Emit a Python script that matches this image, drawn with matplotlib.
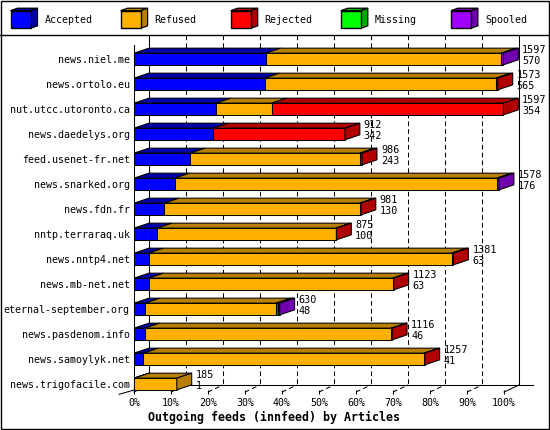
import matplotlib
matplotlib.use("Agg")
import matplotlib.pyplot as plt
from matplotlib.patches import Polygon, Rectangle
import numpy as np

plt.rcParams['font.family'] = ['DejaVu Sans Mono']

# ---------------- data ----------------
feeds = ["news.niel.me", "news.ortolo.eu", "nut.utcc.utoronto.ca", "news.daedelys.org",
         "feed.usenet-fr.net", "news.snarked.org", "news.fdn.fr", "nntp.terraraq.uk",
         "news.nntp4.net", "news.mb-net.net", "eternal-september.org", "news.pasdenom.info",
         "news.samoylyk.net", "news.trigofacile.com"]
accepted = [570, 565, 354, 342, 243, 176, 130, 100, 63, 63, 48, 46, 41, 1]
refused = [1017, 1000, 241, 0, 733, 1392, 846, 772, 1310, 1055, 566, 1066, 1213, 184]
rejected = [0, 8, 1002, 570, 10, 0, 5, 3, 8, 5, 10, 4, 3, 0]
missing = [0, 0, 0, 0, 0, 0, 0, 0, 0, 0, 0, 0, 0, 0]
spooled = [10, 0, 0, 0, 0, 10, 0, 0, 0, 0, 6, 0, 0, 0]
offered = [1597, 1573, 1597, 912, 986, 1578, 981, 875, 1381, 1123, 630, 1116, 1257, 185]
series_names = ["Accepted", "Refused", "Rejected", "Missing", "Spooled"]
tick_pct = list(range(0, 101, 10))
axis_full = 1600  # value shown as 100%

# ---------------- styles ----------------
front_colors = ["#0000ff", "#ffb000", "#ff0000", "#00ff00", "#a000ff"]
dark_colors = ["#0000a8", "#b88000", "#b00000", "#00a800", "#7000b0"]

W, H = 550, 430
fig = plt.figure(figsize=(W / 100, H / 100), dpi=100)
fig.patch.set_facecolor("white")

# background / frame / legend layer (pixel coordinates)
bg = fig.add_axes([0, 0, 1, 1])
bg.set_xlim(0, W)
bg.set_ylim(H, 0)
bg.axis("off")
bg.add_patch(Rectangle((0.5, 0.5), W - 1.5, H - 1.5, fill=False, ec="black", lw=1.0))
bg.plot([0, W], [35, 35], color="black", lw=1.0)

for j, name in enumerate(series_names):
    x0 = 10.5 + 110.1 * j
    y0, w, h, ddx, ddy = 10.7, 20, 17.6, 7, 2.5
    bg.add_patch(Polygon([(x0, y0), (x0 + w, y0), (x0 + w + ddx, y0 - ddy), (x0 + ddx, y0 - ddy)],
                         closed=True, fc=dark_colors[j], ec="black", lw=0.9))
    bg.add_patch(Polygon([(x0 + w, y0), (x0 + w, y0 + h), (x0 + w + ddx, y0 + h - ddy), (x0 + w + ddx, y0 - ddy)],
                         closed=True, fc=dark_colors[j], ec="black", lw=0.9))
    bg.add_patch(Rectangle((x0, y0), w, h, fc=front_colors[j], ec="black", lw=1.0))
    bg.text(x0 + 34, 20, name, fontsize=7.2, va="center", ha="left")

# ---------------- main axes ----------------
PX_X = axis_full / 372.0   # counts per pixel
PX_Y = 1 / 25.0            # rows per pixel
DX = 15 * PX_X             # depth offset (x)
BAR_DY = 5 * PX_Y
FLOOR_DY = 7 * PX_Y
FLOOR = (392 - 59) / 25.0
TOP = (35 - 59) / 25.0
BAR_H = 11.7 * PX_Y

ax = fig.add_axes([134 / W, (H - 392) / H, 385 / W, 357 / H])
ax.set_xlim(0, axis_full + DX)
ax.set_ylim(FLOOR, TOP)
ax.patch.set_visible(False)
for s in ax.spines.values():
    s.set_visible(False)

lw = 0.75
dash = (0, (4.5, 3))
back_floor = FLOOR - FLOOR_DY
ticks = [axis_full * p / 100 for p in tick_pct]
for k, t in enumerate(ticks):
    style = "solid" if k in (0, len(ticks) - 1) else dash
    ax.plot([t + DX, t + DX], [TOP, back_floor], color="black", lw=lw, ls=style, zorder=1, clip_on=False)
    ax.plot([t, t + DX], [FLOOR, back_floor], color="black", lw=lw, ls=style, zorder=1, clip_on=False)
# back floor line
ax.plot([DX, axis_full + 29 * PX_X], [back_floor, back_floor], color="black", lw=lw,
        zorder=1, clip_on=False)
# front left axis
ax.plot([0, 0], [(45 - 59) / 25.0, FLOOR], color="black", lw=lw, zorder=1, clip_on=False)
ax.plot([-DX, 0], [FLOOR + 2.3 * PX_Y, FLOOR - 2 * PX_Y], color="black", lw=lw, zorder=1, clip_on=False)

data = np.array([accepted, refused, rejected, missing, spooled], dtype=float)
for i in range(len(feeds)):
    top = i - BAR_H / 2
    bot = i + BAR_H / 2
    z = 3 + i * 0.01
    left = 0.0
    last = None
    for s in range(data.shape[0]):
        v = data[s, i]
        if v <= 0:
            continue
        right = left + v
        ax.add_patch(Polygon([(left, top), (right, top), (right + DX, top - BAR_DY), (left + DX, top - BAR_DY)],
                             closed=True, fc=dark_colors[s], ec="black", lw=lw, zorder=z, clip_on=False))
        ax.add_patch(Rectangle((left, top), v, BAR_H, fc=front_colors[s], ec="black", lw=lw, zorder=z,
                               clip_on=False))
        left = right
        last = s
    ax.add_patch(Polygon([(left, top), (left, bot), (left + DX, bot - BAR_DY), (left + DX, top - BAR_DY)],
                         closed=True, fc=dark_colors[last], ec="black", lw=lw, zorder=z + 0.001, clip_on=False))
    lx = left + DX + 4 * PX_X
    ax.text(lx, i - 9 * PX_Y, str(offered[i]), fontsize=7.3, va="center", ha="left", zorder=5)
    ax.text(lx, i + 2 * PX_Y, str(accepted[i]), fontsize=7.3, va="center", ha="left", zorder=5)

ax.set_yticks(range(len(feeds)))
ax.set_yticklabels(feeds)
ax.tick_params(axis="y", length=0, pad=3, labelsize=7.2)
ax.set_xticks(ticks)
ax.set_xticklabels([f"{p}%" for p in tick_pct])
ax.tick_params(axis="x", direction="inout", length=3, width=lw, pad=3, labelsize=7.2)

fig.text(0.499, (H - 417) / H, "Outgoing feeds (innfeed) by Articles", fontsize=8.4,
         fontweight="bold", ha="center", va="center")

fig.savefig("out.png", dpi=100, facecolor="white")
